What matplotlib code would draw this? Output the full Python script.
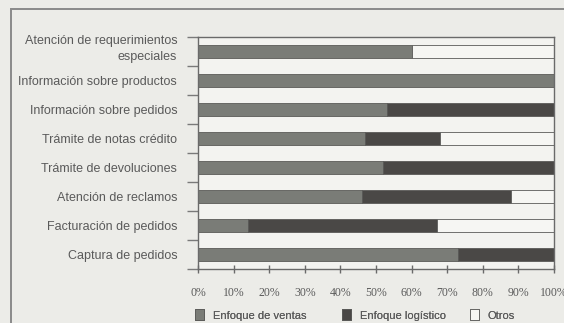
import matplotlib
matplotlib.use("Agg")
import matplotlib.pyplot as plt
import matplotlib.transforms as mtransforms
from matplotlib.patches import Rectangle, Patch
import numpy as np

# datos (porcentajes)
categorias = ["Atención de requerimientos\nespeciales",
              "Información sobre productos",
              "Información sobre pedidos",
              "Trámite de notas crédito",
              "Trámite de devoluciones",
              "Atención de reclamos",
              "Facturación de pedidos",
              "Captura de pedidos"]
ventas = [60, 100, 53, 47, 52, 46, 14, 73]
logistico = [0, 0, 47, 21, 48, 42, 53, 27]
otros = [40, 0, 0, 32, 0, 12, 33, 0]
series = ["Enfoque de ventas", "Enfoque logístico", "Otros"]
xticks = [0, 10, 20, 30, 40, 50, 60, 70, 80, 90, 100]

bg = "#ecece8"
c_txt = "#5a5a5a"
colores = ["#7a7c77", "#4a4846", "#f6f6f3"]

fig = plt.figure(figsize=(5.64, 3.23), dpi=100, facecolor=bg)
ax = fig.add_axes([198/564, 1-269/323, 356/564, 232/323])
ax.set_facecolor("#f3f3f0")

# marco exterior
fig.patches.append(Rectangle((11/564, -0.1), 1.2, 1-9/323+0.1, transform=fig.transFigure,
                             fill=False, edgecolor="#8a8a8a", lw=1.4))

y = np.arange(len(categorias))
izq = np.zeros(len(categorias))
for vals, col in zip([ventas, logistico, otros], colores):
    ax.barh(y, vals, left=izq, height=0.48, color=col, edgecolor="#5a5a58", lw=0.6)
    izq = izq + np.array(vals)

ax.set_xlim(0, 100)
ax.set_ylim(len(categorias) - 0.5, -0.5)

# ticks de separacion y etiquetas centradas
ax.set_yticks(np.arange(-0.5, len(categorias)), labels=[])
ax.set_yticks(y, labels=categorias, minor=True)
ax.tick_params(axis="y", which="major", direction="out", length=8, width=1, color="#7a7a7a")
ax.tick_params(axis="y", which="minor", length=0, pad=15, labelsize=9, labelcolor=c_txt)
for t in ax.get_yticklabels(minor=True):
    t.set_family("Liberation Sans")
# la etiqueta de dos lineas va algo mas arriba
t0 = ax.get_yticklabels(minor=True)[0]
t0.set_linespacing(1.4)
t0.set_transform(t0.get_transform() + mtransforms.ScaledTranslation(0, 6/100, fig.dpi_scale_trans))

ax.set_xticks(xticks, labels=[f"{v}%" for v in xticks])
ax.tick_params(axis="x", direction="inout", length=6, width=1, color="#6a6a6a",
               pad=10, labelsize=8.5, labelcolor=c_txt)
for t in ax.get_xticklabels():
    t.set_family("Liberation Serif")

for s in ax.spines.values():
    s.set_color("#6a6a6a")
    s.set_linewidth(1)

# leyenda: tres entradas en su posicion
for x0, nombre, col in zip([195, 342, 470], series, colores):
    h = Patch(facecolor=col, edgecolor="#5a5a58", lw=0.6)
    leg = fig.legend([h], [nombre], loc="center left", bbox_to_anchor=(x0/564, 1-315/323),
                     frameon=False, labelcolor=c_txt, borderpad=0, borderaxespad=0,
                     handlelength=0.8, handleheight=1.1, handletextpad=0.8,
                     prop={"family": "Liberation Sans", "size": 8})
    fig.add_artist(leg)

fig.savefig("out.png", dpi=100, facecolor=bg)
